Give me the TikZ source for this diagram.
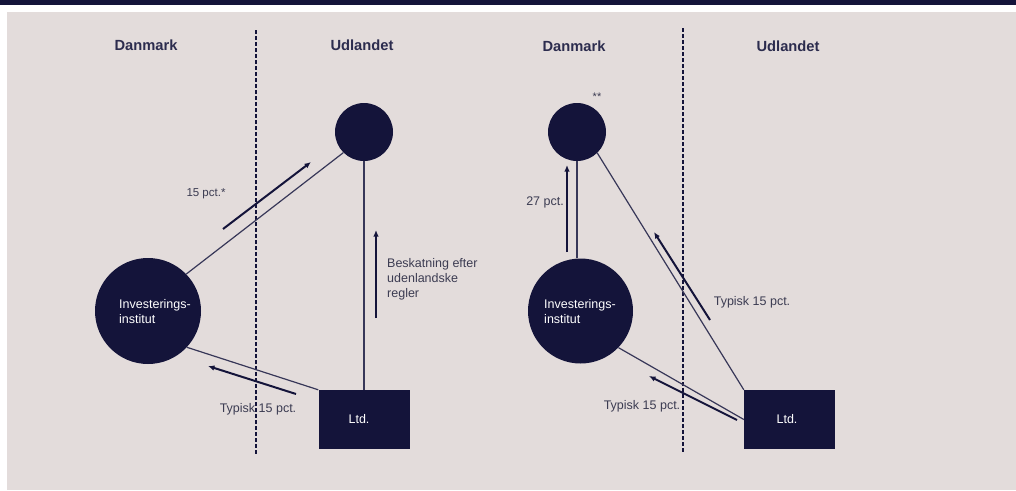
\documentclass[tikz,border=0pt]{standalone}
\usepackage{fontspec}
\setmainfont{Liberation Sans}
\usetikzlibrary{arrows.meta}
\definecolor{navy}{RGB}{20,20,58}
\definecolor{paper}{RGB}{227,220,219}
\definecolor{labelgray}{RGB}{60,60,82}

\begin{document}
\begin{tikzpicture}[x=1pt,y=-1pt,
    hdr/.style={font=\fontsize{14.7}{17}\selectfont\bfseries, text=navy!90},
    lbl/.style={font=\fontsize{12.5}{15}\selectfont, text=labelgray, inner sep=0pt},
    entity/.style={circle, fill=navy, inner sep=0pt},
    ltdbox/.style={rectangle, fill=navy, minimum width=91, minimum height=59, inner sep=0pt},
    intext/.style={font=\fontsize{12.5}{15}\selectfont, text=white, align=left, inner sep=0pt},
    link/.style={draw=navy!85, line width=1.2pt},
    flow/.style={draw=navy, line width=2pt, -{Latex[length=6.5pt,width=5.5pt]}},
    divider/.style={draw=navy, line width=1.5pt, dash pattern=on 4pt off 2pt}]
  \useasboundingbox (0,0) rectangle (1016,490);
  \fill [white] (0,0) rectangle (1016,490);
  \fill [navy] (0,0) rectangle (1016,5);
  \fill [paper] (7,12) rectangle (1016,490);

  % left panel
  \draw [divider] (256,30) -- (256,455);
  \node [hdr] (dk1) at (146,45) {Danmark};
  \node [hdr] (ud1) at (362,45) {Udlandet};
  \node [entity, minimum size=58] (top1) at (364,132) {};
  \node [entity, minimum size=106] (inv1) at (148,311) {};
  \node [intext] (inv1txt) at (155,312) {Investerings-\\institut};
  \node [ltdbox] (ltd1) at (364,419.5) {};
  \node [intext] (ltd1txt) at (359,419) {Ltd.};
  \draw [link] (inv1.44) -- (top1.225);
  \draw [link] (top1.south) -- (ltd1.north);
  \draw [link] (ltd1.north west) -- (inv1.-43);
  \coordinate (f1a) at (223,229);
  \coordinate (f1b) at (311,162);
  \coordinate (f2a) at (376,318);
  \coordinate (f2b) at (376,230);
  \coordinate (f3a) at (296,394);
  \coordinate (f3b) at (208,366);
  \draw [flow] (f1a) -- (f1b);
  \draw [flow] (f2a) -- (f2b);
  \draw [flow] (f3a) -- (f3b);
  \node [lbl, font=\fontsize{11.5}{14}\selectfont] (pct1) at (206,194) {15 pct.*};
  \node [lbl, align=left, anchor=west] (skat1) at (387,279) {Beskatning efter\\udenlandske\\regler};
  \node [lbl] (typ1) at (258,409) {Typisk 15 pct.};

  % right panel
  \draw [divider] (683,28) -- (683,452);
  \node [hdr] (dk2) at (574,46) {Danmark};
  \node [hdr] (ud2) at (788,46) {Udlandet};
  \node [lbl, font=\fontsize{11}{12}\selectfont] (star2) at (597,97) {**};
  \node [entity, minimum size=58] (top2) at (577,132) {};
  \node [entity, minimum size=105] (inv2) at (580.5,311) {};
  \node [intext] (inv2txt) at (580,312) {Investerings-\\institut};
  \node [ltdbox] (ltd2) at (789.5,419.5) {};
  \node [intext] (ltd2txt) at (787,419) {Ltd.};
  \draw [link] (top2.south) -- (inv2.north -| top2.south);
  \draw [link] (top2.-46) -- (ltd2.north west);
  \draw [link] (inv2.-44) -- (ltd2.west);
  \coordinate (g1a) at (567,252);
  \coordinate (g1b) at (567,165);
  \coordinate (g2a) at (710,320);
  \coordinate (g2b) at (654,232);
  \coordinate (g3a) at (737,420);
  \coordinate (g3b) at (649,376);
  \draw [flow] (g1a) -- (g1b);
  \draw [flow] (g2a) -- (g2b);
  \draw [flow] (g3a) -- (g3b);
  \node [lbl, anchor=east] (pct2) at (564,202) {27 pct.};
  \node [lbl] (typ2) at (752,302) {Typisk 15 pct.};
  \node [lbl] (typ3) at (642,406) {Typisk 15 pct.};
\end{tikzpicture}
\end{document}
